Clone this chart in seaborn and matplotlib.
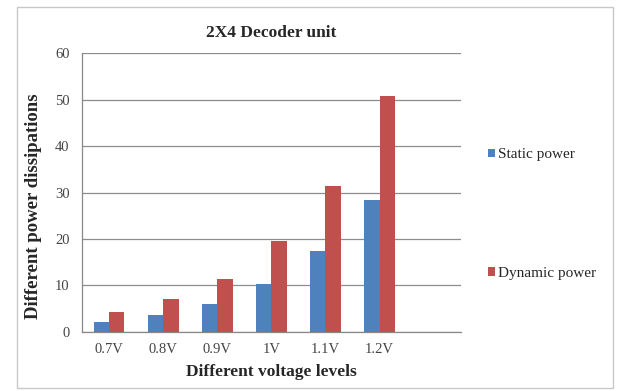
import matplotlib
matplotlib.use("Agg")
import matplotlib.pyplot as plt
from matplotlib.patches import Rectangle
import numpy as np
import pandas as pd
import seaborn as sns

voltages = ["0.7V", "0.8V", "0.9V", "1V", "1.1V", "1.2V"]
static_power = [2.1, 3.6, 6.1, 10.4, 17.4, 28.3]
dynamic_power = [4.2, 7.0, 11.5, 19.6, 31.4, 50.8]
series_names = ["Static power", "Dynamic power"]
yticks = [0, 10, 20, 30, 40, 50, 60]

df = pd.DataFrame({
    "voltage": voltages * 2,
    "power": static_power + dynamic_power,
    "series": [series_names[0]] * len(voltages) + [series_names[1]] * len(voltages),
})

sns.set_theme(style="white")
plt.rcParams["font.family"] = ["Liberation Serif", "DejaVu Serif"]

fig = plt.figure(figsize=(6.26, 3.91), dpi=100)
ax = fig.add_axes([0.131, 0.151, 0.605, 0.713])

palette = {"Static power": "#4F81BD", "Dynamic power": "#C0504D"}
sns.barplot(data=df, x="voltage", y="power", hue="series", order=voltages,
            hue_order=series_names, palette=palette, width=0.57,
            saturation=1, linewidth=0, ax=ax, zorder=3)

ax.set_xlim(-0.5, 6.5)
ax.set_ylim(0, 60)
ax.set_yticks(yticks)
ax.set_yticklabels([str(v) for v in yticks], fontsize=10.5, color="#444444")
ax.set_xticks(range(len(voltages)))
ax.set_xticklabels(voltages, fontsize=10.5, color="#444444")
ax.set_xticks(np.arange(-0.5, 7.0, 1.0), minor=True)
ax.tick_params(axis="x", which="major", length=0, pad=8)
ax.tick_params(axis="x", which="minor", length=4, color="#888888", width=0.8)
ax.tick_params(axis="y", which="major", length=4, color="#888888", width=0.8, pad=5)
ax.tick_params(axis="y", direction="out")

ax.yaxis.grid(True, color="#8c8c8c", linewidth=0.9, zorder=0)
ax.xaxis.grid(False)
for side in ["top", "right"]:
    ax.spines[side].set_visible(False)
for side in ["left", "bottom"]:
    ax.spines[side].set_color("#888888")
    ax.spines[side].set_linewidth(0.9)

ax.set_title("2X4 Decoder unit", fontsize=12.5, fontweight="bold", pad=12)
ax.set_xlabel("Different voltage levels", fontsize=12.5, fontweight="bold", labelpad=6)
ax.set_ylabel("Different power dissipations", fontsize=13.5, fontweight="bold")
ax.yaxis.set_label_coords(-0.105, 0.45)

handles, labels = ax.get_legend_handles_labels()
ax.legend(handles, labels, loc="upper left", bbox_to_anchor=(1.055, 0.68),
          frameon=False, fontsize=11, handlelength=0.5, handleheight=0.5,
          handletextpad=0.2, labelspacing=6.9, borderaxespad=0)

fig.patches.append(Rectangle((0.027, 0.008), 0.952, 0.975, transform=fig.transFigure,
                             fill=False, edgecolor="#c8c8c8", linewidth=1.0))

fig.savefig("out.png", dpi=100)
